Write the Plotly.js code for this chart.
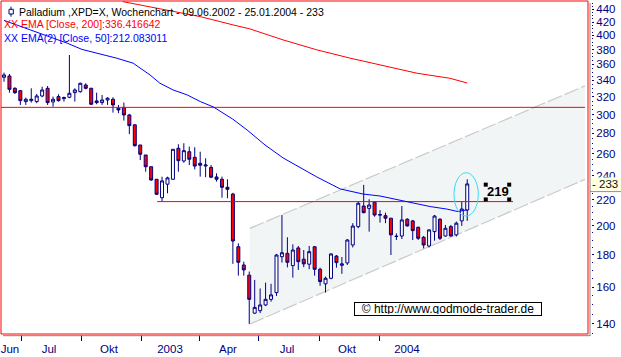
<!DOCTYPE html>
<html><head><meta charset="utf-8">
<script src="https://cdn.plot.ly/plotly-3.0.1.min.js"></script>
<style>html,body{margin:0;padding:0;background:#fff;overflow:hidden}#chart{width:621px;height:357px}</style>
</head><body><div id="chart"></div>
<script>
// ---- data (weekly candles, 09.06.2002 - 25.01.2004) ----
const open  = [343.5,345.1,330.0,327.2,314.4,315.5,314.4,320.9,330.0,314.0,320.2,317.8,319.4,324.8,326.0,334.0,330.0,315.2,313.3,316.3,317.1,306.9,307.6,299.5,289.0,268.5,258.9,248.1,237.0,221.6,232.8,237.0,265.3,253.3,262.0,256.7,251.2,248.7,247.5,239.0,237.0,230.2,224.6,185.4,173.5,167.2,145.6,146.9,150.0,153.1,156.9,178.8,181.0,173.1,184.6,177.2,174.0,185.4,170.8,162.0,165.3,179.2,173.3,174.8,186.6,199.5,215.0,213.2,218.0,208.0,207.6,205.7,192.4,192.8,204.9,203.7,199.0,191.9,185.9,195.9,204.9,192.8,199.5,193.6,203.7,211.9];
const high  = [349.4,347.7,331.2,328.0,319.0,330.0,323.3,332.0,332.8,320.2,322.9,320.2,372.5,330.0,336.8,336.1,330.7,324.8,322.1,319.4,319.4,310.6,313.3,300.6,289.0,268.5,258.9,248.1,237.0,239.2,239.2,264.3,269.2,270.2,266.9,266.3,262.0,255.8,249.6,242.2,239.3,237.0,225.6,187.7,175.6,169.4,164.3,159.3,162.7,162.0,180.6,208.1,191.9,187.0,185.9,183.2,185.9,185.9,171.8,166.3,181.0,179.9,178.6,190.7,202.0,218.5,232.2,220.4,218.5,211.9,209.9,205.7,194.6,215.0,205.7,204.4,199.5,192.8,197.6,208.1,205.7,200.7,200.7,203.2,218.5,237.0];
const low   = [338.0,324.8,323.3,310.6,310.6,313.3,312.6,319.4,310.6,308.7,314.4,314.4,318.3,314.4,324.8,328.8,310.6,311.4,310.6,310.6,302.1,301.4,293.4,279.3,266.9,254.2,243.6,235.6,223.8,218.5,225.2,236.4,243.6,251.7,249.6,245.7,239.3,238.8,237.9,235.0,221.6,221.2,174.2,166.9,166.9,140.0,145.2,145.6,149.4,151.8,155.0,175.0,172.0,165.7,170.4,172.1,170.8,166.9,160.8,156.9,164.7,171.8,168.0,173.5,184.9,198.3,209.4,195.9,206.8,202.4,202.0,179.9,190.0,190.7,199.5,190.0,190.0,184.3,184.9,189.5,190.0,192.4,192.4,192.4,200.0,203.7];
const close = [346.4,328.8,324.8,315.5,317.1,317.1,320.9,328.0,313.3,317.1,315.5,319.0,324.1,328.0,336.1,330.0,311.4,313.3,316.3,318.3,310.6,305.0,299.5,288.1,267.8,259.6,248.1,236.4,224.4,235.6,238.2,264.3,253.6,263.0,254.9,248.7,249.4,249.6,238.8,237.0,230.2,228.5,189.3,175.2,170.4,153.1,148.7,150.0,153.1,155.6,179.9,181.4,175.2,183.2,175.6,174.2,182.1,170.8,163.3,165.3,180.6,175.0,174.2,190.0,199.9,217.2,209.9,215.8,208.1,208.4,205.7,193.6,192.6,204.4,200.0,196.6,191.2,186.6,197.1,207.3,191.2,198.3,192.8,202.0,212.7,233.0];

// EMA(50) and EMA(200), read at week positions
const ema50Week = [0,5.3,11.6,14.3,17.6,20.7,23.7,26.8,28.6,31.0,33.6,36.0,38.4,42.0,44.6,47.9,51.2,54.3,57.4,61.7,65.9,69.0,72.1,75.1,78.2,81.3,83.3,85];
const ema50     = [422.5,407.1,388.9,380.2,374.0,368.2,361.6,346.4,336.2,328.1,322.2,314.5,308.4,294.9,283.6,268.5,256.2,247.6,239.0,228.8,224.6,223.0,220.3,217.3,214.6,212.6,210.7,212.08];
const ema200Week = [21.8,29.9,36.0,42.0,45.1,51.2,57.4,63.5,69.5,75.8,81.8,85];
const ema200     = [452.4,439.0,428.4,415.7,409.7,393.6,379.6,368.3,358.5,348.6,342.3,336.42];

// trend channel and horizontal levels
const channelWeek  = [45.1,106.6];
const channelUpper = [198.2,332.9];
const channelLower = [139.9,236.9];
const resistance = 307.9;
const support = 218.5;
const supportWeeks = [28.1,93.4];
const lastClose = 233;

// axis labels
const xTickLabels = ['Jun','Jul','Okt','2003','Apr','Jul','Okt','2004'];
const yTickValues = [140,160,180,200,220,240,260,280,300,320,340,360,380,400,420,440];

// ---- layout helpers ----
const W=621,H=357,ML=1,MR=33,MT=1,MB=23;
const pw=W-ML-MR, ph=H-MT-MB;
const px=x=>(x-ML)/pw, py=y=>(H-MB-y)/ph;
const weeks = open.map((_,i)=>i);
const NAVY='#000080';

const xLabelPos = [1.1,8.26,19.27,30.46,41.1,51.93,62.94,73.94];
const xTickPos  = [3.3,14.13,25.14,35.96,46.79,57.8,68.81];
const yMinor=[]; for(let v=135; v<=450; v+=5){ if(v%20!==0) yMinor.push(v);} 

const traces = [
  {x:[-1,106.6], y:[resistance,resistance], mode:'lines', line:{color:'#ff0000',width:1}, hoverinfo:'skip'},
  {type:'candlestick', x:weeks, open:open, high:high, low:low, close:close,
   increasing:{fillcolor:'#ffffff', line:{color:NAVY,width:1}},
   decreasing:{fillcolor:'#ff0000', line:{color:NAVY,width:1}},
   whiskerwidth:0, hoverinfo:'skip'},
  {x:supportWeeks, y:[support,support], mode:'lines', line:{color:'#ff0000',width:1}, hoverinfo:'skip'},
  {x:ema200Week, y:ema200, mode:'lines', line:{color:'#ff0000',width:1}, hoverinfo:'skip'},
  {x:ema50Week, y:ema50, mode:'lines', line:{color:'#0000ff',width:1}, hoverinfo:'skip'},
  {x:[88.4,92.7,88.4,92.7], y:[232.4,232.4,220.2,220.2], mode:'markers',
   marker:{symbol:'square',size:4,color:'#000000',line:{width:0}}, hoverinfo:'skip'}
];

const chPath = 'M'+channelWeek[0]+','+channelUpper[0]+' L'+channelWeek[1]+','+channelUpper[1]+
               ' L'+channelWeek[1]+','+channelLower[1]+' L'+channelWeek[0]+','+channelLower[0]+' Z';

const layout = {
  width:W, height:H, margin:{l:ML,r:MR,t:MT,b:MB,pad:0},
  paper_bgcolor:'#ffffff', plot_bgcolor:'#ffffff', showlegend:false, hovermode:false,
  boxgap:0.25, boxgroupgap:0.27,
  font:{family:'Liberation Sans, Arial, sans-serif', size:11, color:'#000000'},
  xaxis:{range:[-0.55,107.16], showgrid:false, zeroline:false, showline:false,
    rangeslider:{visible:false}, fixedrange:true,
    ticks:'', tickvals:xLabelPos, ticktext:xTickLabels, ticklabelstandoff:6,
    tickfont:{family:'Liberation Sans Narrow, Arial Narrow, Liberation Sans, Arial', size:11.5, color:NAVY},
    minor:{tickvals:xTickPos, ticks:'outside', ticklen:6, tickwidth:1, tickcolor:NAVY, showgrid:false}},
  yaxis:{type:'log', range:[2.1302,2.6565], side:'right', anchor:'free', position:1, shift:3,
    showgrid:false, zeroline:false, showline:false, fixedrange:true,
    ticks:'outside', ticklen:2, tickwidth:1, tickcolor:NAVY,
    tickvals:yTickValues, ticktext:yTickValues.map(String),
    tickfont:{family:'Liberation Sans, Arial', size:11.5, color:NAVY},
    minor:{tickvals:yMinor, ticks:'outside', ticklen:1, tickwidth:1, tickcolor:NAVY, showgrid:false}},
  shapes:[
    {type:'path', xref:'x', yref:'y', path:chPath, fillcolor:'#f2f5f5', line:{width:0}, layer:'below'},
    {type:'line', xref:'x', yref:'y', x0:channelWeek[0], x1:channelWeek[1], y0:channelUpper[0], y1:channelUpper[1], line:{color:'#cacaca',width:1.2,dash:'15px,3px'}, layer:'below'},
    {type:'line', xref:'x', yref:'y', x0:channelWeek[0], x1:channelWeek[1], y0:channelLower[0], y1:channelLower[1], line:{color:'#cacaca',width:1.2,dash:'15px,3px'}, layer:'below'},
    {type:'rect', xref:'paper', yref:'y', x0:px(590.5), x1:px(621), y0:238.7, y1:227.4, fillcolor:'#ffffe1', line:{width:0}, layer:'above'},
    {type:'line', xref:'paper', yref:'y', x0:px(590), x1:px(621), y0:226.6, y1:226.6, line:{color:'#909090',width:1}, layer:'above'},
    {type:'rect', xref:'paper', yref:'paper', x0:0, x1:1, y0:0, y1:1, line:{color:'#ff0000',width:1}, fillcolor:'rgba(0,0,0,0)', layer:'above'},
    {type:'line', xref:'paper', yref:'paper', x0:px(590), x1:px(590), y0:py(336), y1:py(3), line:{color:'#808080',width:1}, layer:'above'},
    {type:'line', xref:'paper', yref:'paper', x0:px(3), x1:px(590), y0:py(335.7), y1:py(335.7), line:{color:'#808080',width:1}, layer:'above'},
    {type:'circle', xref:'x', yref:'y', x0:82.57, x1:87.03, y0:207.3, y1:242.7, line:{color:'#33ddf2',width:1}, layer:'above'},
    {type:'line', xref:'paper', yref:'paper', x0:px(11), x1:px(11), y0:py(6.7), y1:py(16.7), line:{color:NAVY,width:1}, layer:'above'},
    {type:'rect', xref:'paper', yref:'paper', x0:px(9), x1:px(13.3), y0:py(9.3), y1:py(14), line:{color:NAVY,width:1}, fillcolor:'#ffffff', layer:'above'}
  ],
  annotations:[
    {xref:'paper', yref:'paper', x:px(17), y:py(11.7), xanchor:'left', yanchor:'middle', showarrow:false,
     text:'Palladium ,XPD=X, Wochenchart - 09.06.2002 - 25.01.2004 - 233', font:{size:10.5,color:'#000000'}},
    {xref:'paper', yref:'paper', x:px(2), y:py(24), xanchor:'left', yanchor:'middle', showarrow:false,
     text:'XX EMA [Close, 200]:336.416642', font:{size:10.5,color:'#ff0000'}},
    {xref:'paper', yref:'paper', x:px(2), y:py(38.3), xanchor:'left', yanchor:'middle', showarrow:false,
     text:'XX EMA(2) [Close, 50]:212.083011', font:{size:10.5,color:'#0000ff'}},
    {xref:'paper', yref:'y', x:px(590), y:Math.log10(lastClose), xanchor:'left', yanchor:'middle', showarrow:false,
     text:'- '+lastClose, font:{size:11.5,color:'#101010'}},
    {xref:'x', yref:'y', x:90.64, y:Math.log10(226.5), xanchor:'center', yanchor:'middle', showarrow:false,
     text:'<b>219</b>', font:{size:13,color:'#000000'}},
    {xref:'paper', yref:'paper', x:px(448.3), y:py(308.9), xanchor:'center', yanchor:'middle', showarrow:false,
     text:'\u00a9 http://www.godmode-trader.de', font:{size:12,color:'#000000'},
     bgcolor:'#ffffff', bordercolor:'#000000', borderwidth:1, borderpad:1, width:184, height:10}
  ]
};

Plotly.newPlot('chart', traces, layout, {displayModeBar:false, staticPlot:true});
</script>
</body></html>
